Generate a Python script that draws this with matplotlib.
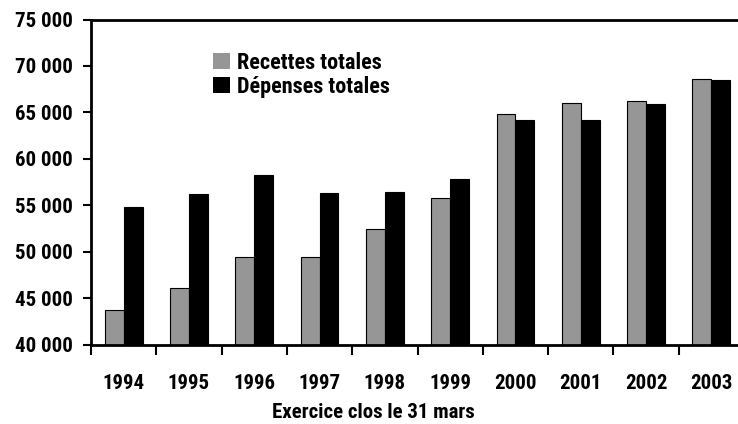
import numpy as np
import matplotlib
matplotlib.use("Agg")
from matplotlib import pyplot as plt
from matplotlib.ticker import FuncFormatter, FixedLocator

years = ["1994", "1995", "1996", "1997", "1998", "1999", "2000", "2001", "2002", "2003"]
recettes = [43700, 46100, 49400, 49400, 52400, 55800, 64800, 66000, 66200, 68600]
depenses = [54800, 56200, 58300, 56300, 56400, 57800, 64200, 64200, 65900, 68500]

plt.rcParams['font.family'] = ['Roboto Condensed', 'Liberation Sans Narrow', 'DejaVu Sans']
plt.rcParams['font.weight'] = 'heavy'
plt.rcParams['font.stretch'] = 'condensed'
fs = 15

fig = plt.figure(figsize=(7.38, 4.24), dpi=100)
ax = fig.add_axes([91 / 738, 1 - 344.7 / 424, 653 / 738, 325.2 / 424])

x = np.arange(len(years))
w = 0.29
ax.bar(x - w / 2, recettes, w, color='#969696', edgecolor='black', linewidth=0.8,
       label='Recettes totales', zorder=2)
ax.bar(x + w / 2, depenses, w, color='black', edgecolor='black', linewidth=0.8,
       label='Dépenses totales', zorder=2)

ax.set_xlim(-0.5, len(years) - 0.5)
ax.set_ylim(40000, 75000)
ax.set_yticks(np.arange(40000, 75001, 5000))
ax.yaxis.set_major_formatter(FuncFormatter(lambda v, p: f"{int(v):,}".replace(",", " ")))

ax.set_xticks(x)
ax.set_xticklabels(years)
ax.xaxis.set_minor_locator(FixedLocator(np.arange(-0.5, len(years) - 0.4, 1.0)))
ax.tick_params(axis='x', which='major', length=0, pad=21, labelsize=fs)
ax.tick_params(axis='x', which='minor', length=7, width=1.5, direction='out')
ax.tick_params(axis='y', length=6, width=1.5, direction='out', pad=7, labelsize=fs)

for s in ['left', 'bottom', 'top']:
    ax.spines[s].set_linewidth(2)
ax.spines['right'].set_visible(False)

fig.text(373 / 738, 1 - 413 / 424, 'Exercice clos le 31 mars', ha='center', va='center',
         fontsize=fs, fontweight='heavy')

leg = ax.legend(loc='upper left', bbox_to_anchor=(197 / 738, 1 - 36 / 424),
                bbox_transform=fig.transFigure, frameon=False, fontsize=16,
                handlelength=0.8, handleheight=0.75, handletextpad=0.3,
                labelspacing=0.1, borderpad=0.2)
for h in leg.legend_handles:
    h.set_linewidth(0)

fig.savefig('out.png', dpi=100)
